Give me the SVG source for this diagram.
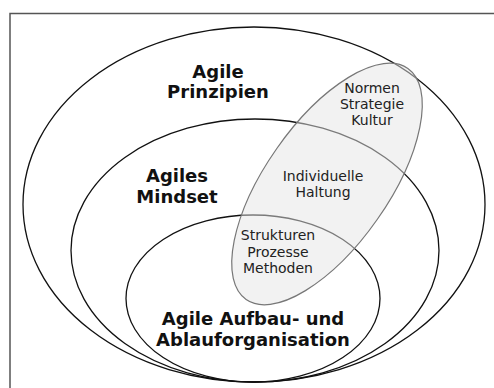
<svg xmlns="http://www.w3.org/2000/svg" width="494" height="388" viewBox="0 0 494 388">
<style>
.ring{fill:none;stroke:#111;stroke-width:1.3}
.b{font-family:"DejaVu Sans",Verdana,sans-serif;font-weight:bold;font-size:18px;fill:#111;text-anchor:middle}
.r{font-family:"DejaVu Sans",Verdana,sans-serif;font-size:14px;fill:#222;text-anchor:middle}
</style>
<rect width="494" height="388" fill="#fff"/>
<path d="M10 388 V13.5 H494" fill="none" stroke="#555" stroke-width="1.5"/>
<g id="prinzipien">
<ellipse class="ring" cx="254" cy="204.5" rx="231" ry="177.5"/>
<text class="b" x="218" y="78">Agile</text>
<text class="b" x="218" y="98">Prinzipien</text>
</g>
<g id="mindset">
<ellipse class="ring" cx="255" cy="250.5" rx="184" ry="131.5"/>
<text class="b" x="177" y="182">Agiles</text>
<text class="b" x="177" y="203">Mindset</text>
</g>
<g id="organisation">
<ellipse class="ring" cx="253" cy="298.5" rx="127" ry="83.5"/>
<text class="b" x="253" y="325">Agile Aufbau- und</text>
<text class="b" x="253" y="346">Ablauforganisation</text>
</g>
<g id="ebenen">
<ellipse cx="327" cy="184" rx="141" ry="61.5" transform="rotate(-55 327 184)" fill="#e5e5e5" fill-opacity="0.5" stroke="#777" stroke-width="1.2"/>
<text class="r" x="372" y="93">Normen</text>
<text class="r" x="372" y="109">Strategie</text>
<text class="r" x="372" y="125">Kultur</text>
<text class="r" x="323" y="181">Individuelle</text>
<text class="r" x="323" y="197">Haltung</text>
<text class="r" x="278" y="240">Strukturen</text>
<text class="r" x="278" y="257">Prozesse</text>
<text class="r" x="278" y="273">Methoden</text>
</g>
<g id="connectors"></g>
</svg>
